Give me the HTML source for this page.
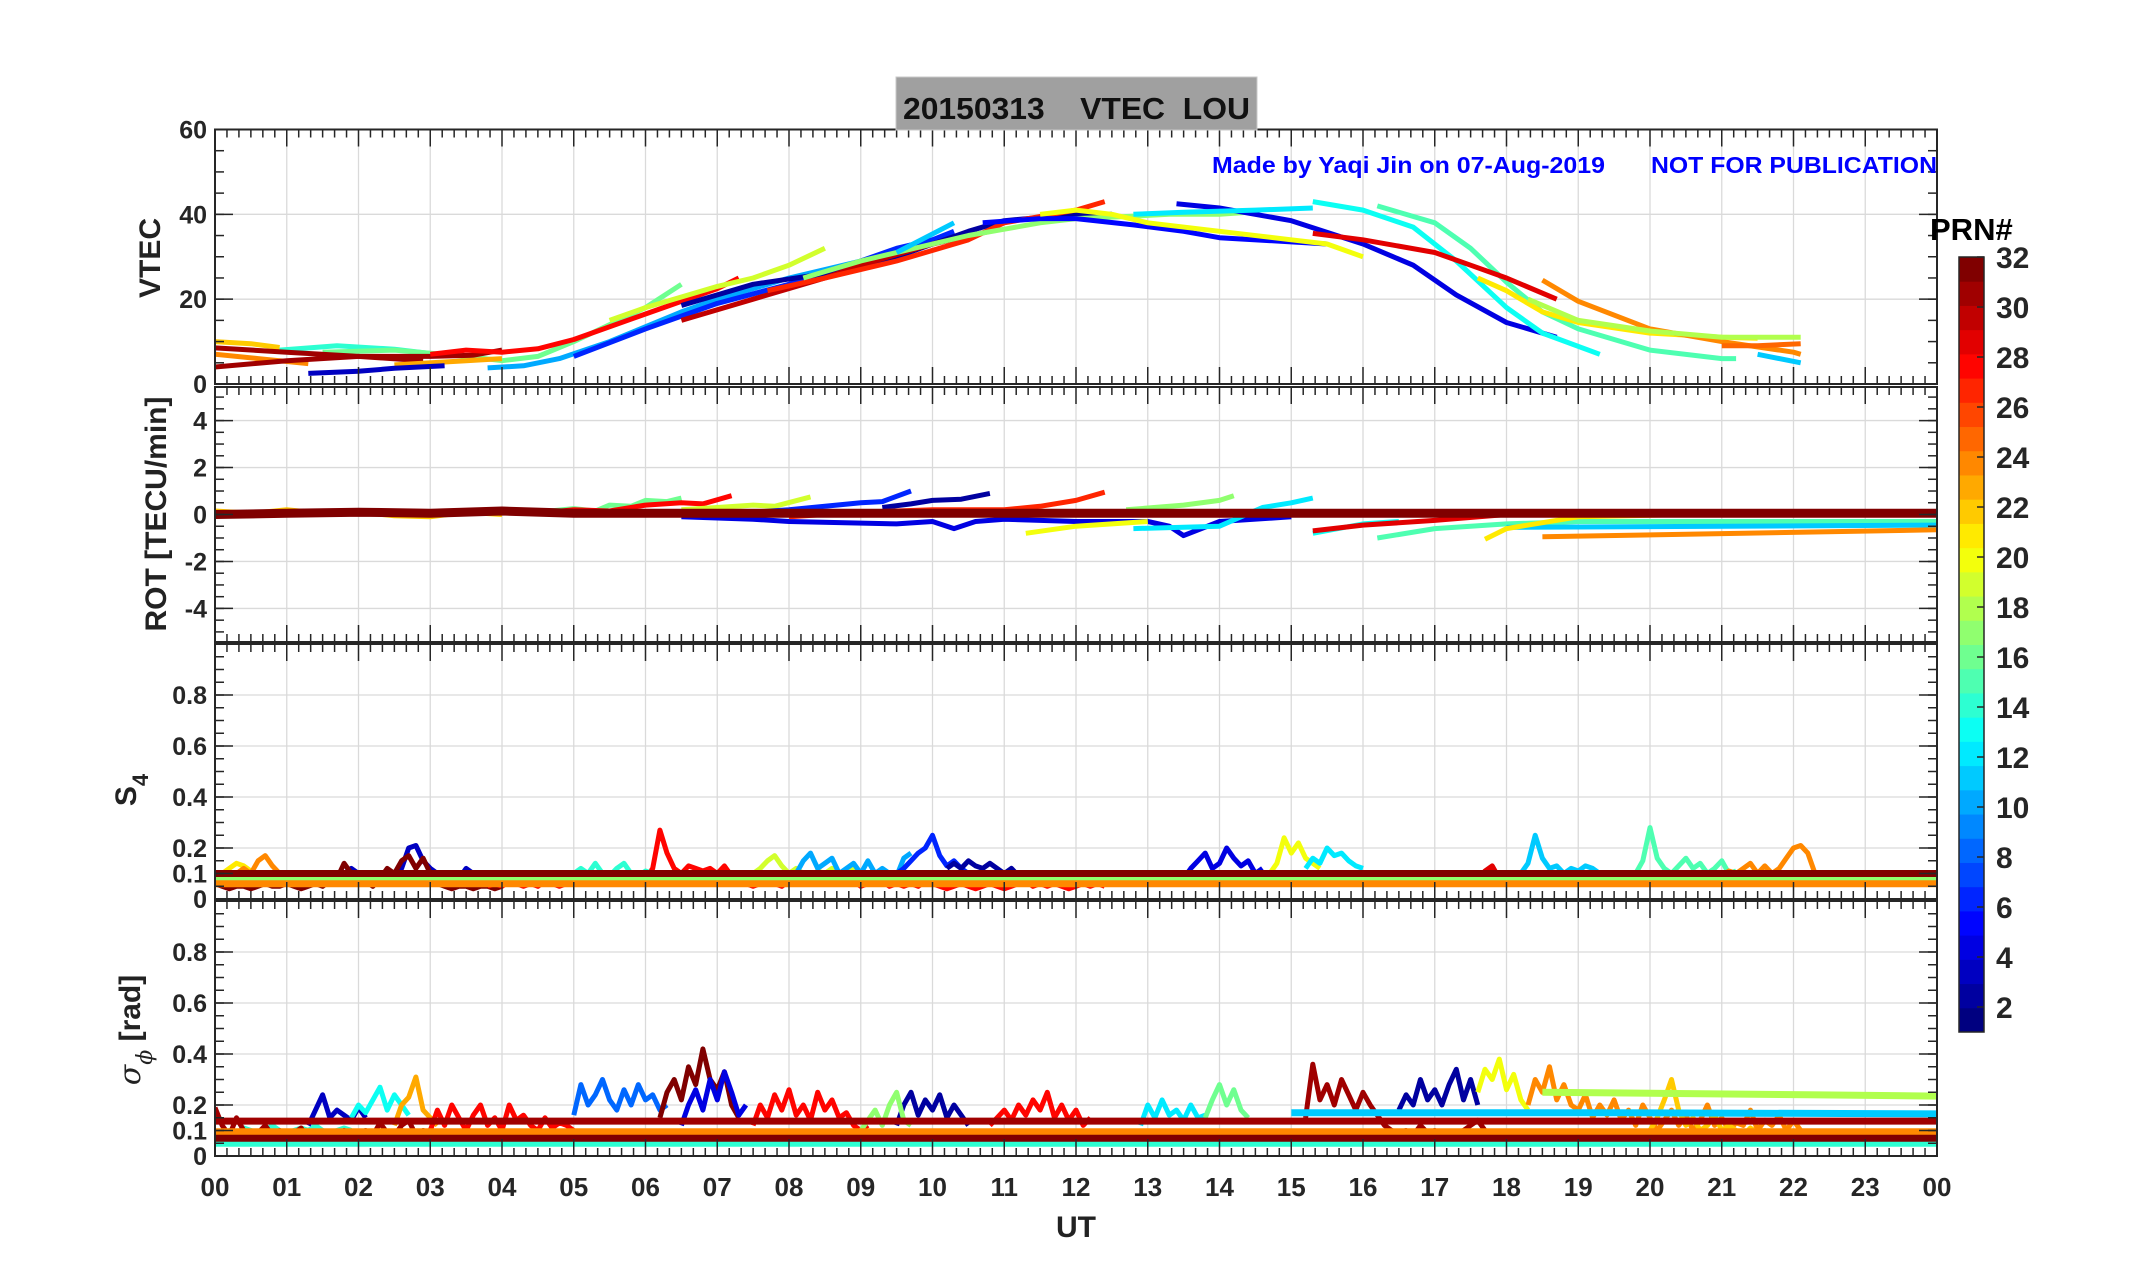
<!DOCTYPE html>
<html><head><meta charset="utf-8"><style>
html,body{margin:0;padding:0;background:#fff;}
svg{display:block;font-family:"Liberation Sans",Arial,sans-serif;}
</style></head><body>
<svg id="fig" width="2153" height="1286" viewBox="0 0 2153 1286" xmlns="http://www.w3.org/2000/svg">
<g id="grids"></g>
<g id="series"></g>
<g id="axes"></g>
<rect x="896" y="77" width="361" height="53" fill="#a0a0a0" stroke="#c8c8c8"/>
<text x="903" y="119" font-size="31" font-weight="bold" fill="#111" textLength="347" lengthAdjust="spacingAndGlyphs" xml:space="preserve">20150313    VTEC  LOU</text>
<text x="1212" y="173" font-size="23" font-weight="bold" fill="#0000ff" textLength="393" lengthAdjust="spacingAndGlyphs">Made by Yaqi Jin on 07-Aug-2019</text>
<text x="1651" y="173" font-size="23" font-weight="bold" fill="#0000ff" textLength="286" lengthAdjust="spacingAndGlyphs">NOT FOR PUBLICATION</text>
<text transform="translate(160,258) rotate(-90)" text-anchor="middle" font-size="30" font-weight="bold" fill="#222">VTEC</text>
<text transform="translate(166,514) rotate(-90)" text-anchor="middle" font-size="30" font-weight="bold" fill="#222">ROT [TECU/min]</text>
<text transform="translate(136,790) rotate(-90)" text-anchor="middle" font-size="30" font-weight="bold" fill="#222">S<tspan font-size="22" dy="12">4</tspan></text>
<text transform="translate(140,1030) rotate(-90)" text-anchor="middle" font-size="30" font-weight="bold" fill="#222"><tspan font-style="italic" font-weight="normal" font-family="DejaVu Serif,serif">σ</tspan><tspan font-size="22" dy="12" font-style="italic" font-weight="normal" font-family="DejaVu Serif,serif">ϕ</tspan><tspan dy="-12"> [rad]</tspan></text>
<text x="1076" y="1237" text-anchor="middle" font-size="30" font-weight="bold" fill="#222">UT</text>
<g id="cbar"></g>
<text x="1930" y="240" font-size="31" font-weight="bold" fill="#000">PRN#</text>
</svg>
<script>
// ---------------- data ----------------
const hourLabels = ["00","01","02","03","04","05","06","07","08","09","10","11","12","13","14","15","16","17","18","19","20","21","22","23","00"];
const vtecTicks = [0,20,40,60];
const rotTicks = [-4,-2,0,2,4];
const scintTicks = [0,0.1,0.2,0.4,0.6,0.8];
const cbarTicks = [2,4,6,8,10,12,14,16,18,20,22,24,26,28,30,32];

// VTEC arcs: PRN, then [hour, TECU] pairs
const vtecPRN = [22,24,14,16,31,31,28,23,3,10,6,19,2,30,27,17,11,5,20,4,12,13,15,29,21,24,18,25,11];
const vtecPts = [
 [[0,10],[0.5,9.5],[0.9,8.6]],
 [[0,7],[0.6,6],[1.3,4.8]],
 [[0.9,8],[1.7,9],[2.5,8.2],[3,7.2]],
 [[1.5,7.5],[2.5,8],[3.5,6.5],[4,5.5],[4.5,6.5],[5,10],[6,18],[6.5,23.5]],
 [[0,8.5],[1,7.5],[2,6.5],[2.9,5.5]],
 [[0,4],[1,5.5],[2,6.5],[3,6.5],[3.6,6.8],[4,8]],
 [[3,7],[3.5,8],[4,7.5],[4.5,8.3],[5,10.5],[6,16.5],[7,22.5],[7.3,25]],
 [[2.5,4.5],[3.5,5.5],[4,6]],
 [[1.3,2.5],[2,3],[2.5,3.7],[3.2,4.3]],
 [[3.8,3.8],[4.3,4.3],[4.8,6],[5.5,10],[6.5,17],[7,20],[8,25],[9,29],[9.4,31]],
 [[5,6.5],[6,13],[7,19],[8,23.5],[9,29],[9.5,32],[10,34],[10.3,36]],
 [[5.5,15],[6,18],[7,23],[7.5,25],[8,28],[8.5,32]],
 [[6.5,18.5],[7.5,23.5],[8.5,26],[9.5,30],[10.5,36],[11,38.5],[12,40],[12.5,40]],
 [[6.5,15],[7.5,20],[8.5,25],[9,28],[10,33],[10.8,36]],
 [[7.7,22],[8.5,25],[9.5,29],[10.5,34],[11,38],[12,41],[12.4,43]],
 [[8.2,25],[9,29],[10,33],[10.5,35],[11,36.5],[11.5,38],[12,39],[12.7,39.5],[13.3,40],[14,40],[14.4,40.5]],
 [[9.5,31],[10.3,38]],
 [[10.7,38],[11.5,39],[12,39],[12.8,37.5],[13.5,36],[14,34.5],[15,33.5],[15.5,33]],
 [[11.5,40],[12,41],[12.5,40],[13,38],[14,36],[15,34],[15.5,33],[16,30]],
 [[13.4,42.5],[14,41.5],[15,38.5],[16,33],[16.7,28],[17.3,21],[18,14.5],[18.7,11]],
 [[12.8,40],[13.5,40.5],[14.5,41],[15.3,41.5]],
 [[15.3,43],[16,41],[16.7,37],[17.3,29],[18,18],[18.5,12],[19.3,7]],
 [[16.2,42],[17,38],[17.5,32],[18,24],[18.5,17],[19,13],[20,8],[21,6],[21.2,6]],
 [[15.3,35.5],[16,34],[17,31],[17.5,28],[18,25],[18.7,20]],
 [[17.6,25],[18,22],[18.5,17],[19,14.5],[20,12],[21,11],[21.5,10.8]],
 [[18.5,24.5],[19,19.5],[20,13],[21,10],[22,7.5],[22.1,7]],
 [[18.3,20],[19,15],[20,12.5],[21,11],[22.1,11]],
 [[21,9],[21.5,9],[22.1,9.5]],
 [[21.5,7],[22.1,5]]
];

// ROT arcs: PRN, then [hour, TECU/min] pairs
const rotPRN = [22,16,28,19,6,2,27,4,20,17,12,13,29,15,11,24,21,2,32];
const rotPts = [
 [[0,0.15],[0.5,0.05],[1,0.2],[1.5,0.05],[2,0.1],[2.5,-0.05],[3,-0.1],[3.5,0.1],[4,0]],
 [[4.5,0.1],[5,0.25],[5.3,0.15],[5.5,0.4],[5.8,0.35],[6,0.6],[6.3,0.55],[6.5,0.7]],
 [[4.5,0.05],[5,0.2],[5.5,0.15],[6,0.4],[6.5,0.5],[6.8,0.45],[7.2,0.8]],
 [[6.5,0.2],[7,0.3],[7.5,0.4],[7.8,0.35],[8.3,0.75]],
 [[7.5,0.1],[8,0.2],[8.5,0.35],[9,0.5],[9.3,0.55],[9.7,1.0]],
 [[9.3,0.3],[9.7,0.45],[10,0.6],[10.4,0.65],[10.8,0.9]],
 [[8,-0.1],[9,0.1],[10,0.2],[11,0.2],[11.5,0.35],[12,0.6],[12.4,0.95]],
 [[6.5,-0.1],[7.5,-0.2],[8,-0.3],[9.5,-0.4],[10,-0.3],[10.3,-0.6],[10.6,-0.3],[11,-0.2],[12,-0.3],[13,-0.3],[13.3,-0.5],[13.5,-0.9],[14,-0.3],[15,-0.1]],
 [[11.3,-0.8],[12,-0.5],[12.5,-0.4],[13,-0.3]],
 [[12.7,0.2],[13.5,0.4],[14,0.6],[14.2,0.8]],
 [[12.8,-0.6],[14,-0.5],[14.6,0.3],[15,0.5],[15.3,0.7]],
 [[15.3,-0.8],[16,-0.4],[16.5,-0.3]],
 [[15.3,-0.7],[16,-0.45],[17,-0.25],[18,0],[18.7,0.05]],
 [[16.2,-1],[17,-0.6],[18,-0.4],[19,-0.3],[24,-0.3]],
 [[18,-0.55],[24,-0.45]],
 [[18.5,-0.95],[24,-0.65]],
 [[17.7,-1.05],[18,-0.6],[19,-0.1],[22,0.1]],
 [[16,0.05],[17.5,0.1]],
 [[0,0],[1,0.05],[2,0.1],[3,0.05],[4,0.15],[5,0.05],[8,0.05],[24,0.05]]
];

// S4 arcs: PRN, start hour, step h, values
const s4PRN = [21,24,3,32,28,14,19,10,6,2,4,20,12,29,11,15,24,17,24,32];
const s4Start = [0,0.3,1.3,0,3.8,5,7.5,8.1,9.5,10.2,13.5,14.7,15.2,15.3,18.2,19.8,21,0,0,0];
const s4Vals = [
 [0.09,0.1,0.12,0.14,0.13,0.11,0.1,0.09,0.08,0.09,0.1,0.08,0.09,0.1],
 [0.1,0.12,0.1,0.15,0.17,0.13,0.1,0.08,0.09,0.08,0.1,0.07,0.08,0.09],
 [0.07,0.08,0.1,0.09,0.08,0.1,0.12,0.1,0.08,0.09,0.1,0.08,0.1,0.12,0.2,0.21,0.15,0.12,0.1,0.09,0.1,0.08,0.12,0.1,0.08],
 [0.06,0.05,0.04,0.05,0.05,0.04,0.05,0.06,0.05,0.05,0.06,0.05,0.04,0.05,0.06,0.05,0.07,0.08,0.14,0.1,0.06,0.07,0.05,0.08,0.12,0.1,0.15,0.17,0.12,0.16,0.1,0.06,0.05,0.04,0.05,0.05,0.04,0.05,0.05,0.04,0.05],
 [0.05,0.06,0.05,0.07,0.06,0.05,0.06,0.05,0.07,0.06,0.05,0.06,0.07,0.06,0.08,0.07,0.06,0.07,0.08,0.07,0.06,0.07,0.08,0.12,0.27,0.18,0.12,0.1,0.13,0.12,0.11,0.12,0.1,0.13,0.09,0.07,0.06,0.05,0.06,0.07,0.06,0.05,0.07,0.06,0.08,0.1,0.08,0.07,0.09,0.08,0.06,0.07,0.05,0.06,0.08,0.07,0.05,0.06,0.05,0.06,0.05,0.07,0.06,0.05,0.04,0.05,0.06,0.05,0.04,0.05,0.06,0.05,0.04,0.05,0.06,0.07,0.05,0.06,0.05,0.06,0.05,0.04,0.05,0.06,0.05,0.06,0.05],
 [0.1,0.12,0.1,0.14,0.1,0.09,0.12,0.14,0.1,0.09,0.11,0.1],
 [0.1,0.12,0.15,0.17,0.13,0.1,0.12,0.1,0.09,0.11,0.1,0.12,0.1,0.09,0.12,0.1],
 [0.1,0.15,0.18,0.12,0.14,0.16,0.1,0.12,0.14,0.1,0.15,0.1,0.12,0.1,0.09,0.16,0.18],
 [0.1,0.12,0.15,0.18,0.2,0.25,0.17,0.13,0.15,0.12,0.1],
 [0.12,0.14,0.12,0.15,0.13,0.12,0.14,0.12,0.1,0.12,0.09,0.1],
 [0.08,0.12,0.15,0.18,0.12,0.14,0.2,0.16,0.13,0.15,0.1,0.12],
 [0.1,0.14,0.24,0.18,0.22,0.16,0.14,0.12],
 [0.12,0.16,0.14,0.2,0.17,0.18,0.15,0.13,0.12],
 [0.06,0.08,0.07,0.1,0.08,0.07,0.06,0.07,0.08,0.06,0.07,0.06,0.08,0.07,0.06,0.08,0.06,0.07,0.08,0.06,0.09,0.07,0.08,0.07,0.11,0.13,0.08,0.07,0.09,0.08,0.1,0.07,0.08,0.06],
 [0.1,0.14,0.25,0.16,0.12,0.13,0.1,0.12,0.11,0.13,0.12,0.1],
 [0.1,0.15,0.28,0.16,0.12,0.1,0.13,0.16,0.12,0.14,0.1,0.12,0.15,0.1,0.11],
 [0.09,0.11,0.1,0.12,0.14,0.1,0.13,0.1,0.12,0.16,0.2,0.21,0.18,0.1],
 [0.085,0.085],
 [0.06,0.06],
 [0.1,0.1]
];
const s4Step = [0.1,0.1,0.1,0.1,0.1,0.1,0.1,0.1,0.1,0.1,0.1,0.1,0.1,0.1,0.1,0.1,0.1,24,24,24];

// sigma-phi arcs
const sigPRN = [14,3,13,23,31,28,8,32,4,28,2,17,28,12,16,31,2,20,24,22,18,11,24,14,31,32];
const sigStart = [0,1.3,1.9,2.5,0,3,5,6.2,6.5,7.5,9.5,9,10.8,12.9,13.8,15.2,16.5,17.6,18.3,20,18.5,15,0,0,0,0];
const sigVals = [
 [0.06,0.08,0.1,0.09,0.11,0.1,0.09,0.1,0.12,0.1,0.09,0.1,0.11,0.1,0.12,0.1,0.09,0.1,0.11,0.1],
 [0.12,0.18,0.24,0.15,0.18,0.16,0.14,0.19,0.15],
 [0.15,0.2,0.17,0.22,0.27,0.18,0.24,0.2,0.16],
 [0.12,0.2,0.23,0.31,0.18,0.15,0.12],
 [0.19,0.12,0.08,0.15,0.1,0.07,0.09,0.12,0.08,0.1,0.06,0.09,0.11,0.07,0.09,0.08,0.07,0.08,0.1,0.07,0.09,0.1,0.08,0.13,0.09,0.08,0.12,0.14,0.08,0.1,0.09],
 [0.1,0.18,0.12,0.2,0.15,0.1,0.16,0.2,0.12,0.15,0.1,0.2,0.14,0.16,0.12,0.1,0.15,0.11,0.13,0.12,0.1],
 [0.16,0.28,0.2,0.24,0.3,0.22,0.18,0.26,0.2,0.28,0.22,0.24,0.18,0.2],
 [0.15,0.25,0.3,0.22,0.35,0.28,0.42,0.3,0.26,0.33,0.2,0.15],
 [0.12,0.2,0.26,0.18,0.3,0.22,0.33,0.25,0.16,0.2],
 [0.12,0.2,0.15,0.24,0.18,0.26,0.16,0.2,0.14,0.25,0.18,0.22,0.15,0.17,0.12,0.1,0.12],
 [0.12,0.2,0.25,0.16,0.22,0.18,0.24,0.15,0.2,0.16,0.12],
 [0.1,0.14,0.18,0.12,0.2,0.25,0.14,0.12],
 [0.12,0.15,0.18,0.14,0.2,0.16,0.22,0.18,0.25,0.15,0.2,0.14,0.18,0.12,0.15],
 [0.12,0.2,0.15,0.22,0.16,0.18,0.14,0.2,0.15,0.16],
 [0.15,0.22,0.28,0.2,0.26,0.18,0.15],
 [0.15,0.36,0.22,0.28,0.2,0.3,0.24,0.18,0.25,0.2,0.16,0.12,0.1,0.09,0.1,0.08,0.12,0.09,0.1,0.08,0.07,0.09,0.1,0.12,0.14,0.1,0.08,0.09],
 [0.18,0.24,0.2,0.3,0.22,0.26,0.2,0.28,0.34,0.22,0.3,0.2],
 [0.25,0.34,0.3,0.38,0.26,0.32,0.22,0.18],
 [0.2,0.3,0.25,0.35,0.22,0.28,0.2,0.18,0.24,0.15,0.2,0.16,0.22,0.14,0.18,0.12,0.2,0.15,0.1,0.14,0.18,0.12,0.16,0.1,0.14,0.2,0.12,0.15,0.1,0.13,0.12,0.18,0.1,0.14,0.12,0.16,0.1,0.14,0.1],
 [0.1,0.15,0.22,0.3,0.18,0.12,0.15,0.1,0.12,0.16,0.1,0.12,0.1,0.08,0.11,0.09,0.1,0.08,0.07,0.08,0.1],
 [0.25,0.245,0.24,0.235],
 [0.17,0.17,0.165],
 [0.095,0.095],
 [0.05,0.05],
 [0.137,0.137],
 [0.07,0.07]
];
const sigStep = [0.1,0.1,0.1,0.1,0.1,0.1,0.1,0.1,0.1,0.1,0.1,0.1,0.1,0.1,0.1,0.1,0.1,0.1,0.1,0.1,1.85,4.5,24,24,24,24];

// ---------------- layout / scales ----------------
const NS = "http://www.w3.org/2000/svg";
const X0 = 215, X1 = 1937;
const xs = h => X0 + (h / 24) * (X1 - X0);
const panels = [
  {top:129.5, bot:384, min:0, max:60},
  {top:387, bot:642, min:-5.43, max:5.43},
  {top:644, bot:899, min:0, max:1},
  {top:901, bot:1156, min:0, max:1}
];
const ys = (p, v) => p.bot - (v - p.min) / (p.max - p.min) * (p.bot - p.top);
function jet(prn){
  const t = (prn - 1) / 31;
  const c = v => Math.round(255 * Math.max(0, Math.min(1, v)));
  return `rgb(${c(1.5-Math.abs(4*t-3))},${c(1.5-Math.abs(4*t-2))},${c(1.5-Math.abs(4*t-1))})`;
}
function mk(tag, attrs, parent){
  const e = document.createElementNS(NS, tag);
  for (const k in attrs) e.setAttribute(k, attrs[k]);
  parent.appendChild(e);
  return e;
}
const gGrid = document.getElementById('grids');
const gSer = document.getElementById('series');
const gAx = document.getElementById('axes');
const gCb = document.getElementById('cbar');

const yTickSets = [vtecTicks, rotTicks, scintTicks, scintTicks];
const yMinorSteps = [5, 0.5, 0.05, 0.05];

panels.forEach((p, pi) => {
  for (let h = 1; h < 24; h++) {
    const l = mk('line', {x1:xs(h), x2:xs(h), y1:p.top, y2:p.bot, stroke:'#dadada', 'stroke-width':1.3}, gGrid);
    
    
  }
  yTickSets[pi].forEach(v => {
    if (v === p.min || v === p.max) return;
    const l = mk('line', {x1:X0, x2:X1, y1:ys(p,v), y2:ys(p,v), stroke:'#dadada', 'stroke-width':1.3}, gGrid);
    
    
  });
  const r = mk('rect', {x:X0, y:p.top, width:X1-X0, height:p.bot-p.top, fill:'none', stroke:'#262626', 'stroke-width':2}, gAx);
  
  
  for (let m = 0; m <= 24*6; m++) {
    const h = m / 6, major = m % 6 === 0, L = major ? 17 : 8, x = xs(h);
    mk('line', {x1:x, x2:x, y1:p.top, y2:p.top+L, stroke:'#262626', 'stroke-width':1.5}, gAx);
    mk('line', {x1:x, x2:x, y1:p.bot, y2:p.bot-L, stroke:'#262626', 'stroke-width':1.5}, gAx);
  }
  const st = yMinorSteps[pi];
  for (let v = Math.ceil(p.min/st)*st; v <= p.max + 1e-9; v += st) {
    const y = ys(p, v);
    mk('line', {x1:X0, x2:X0+9, y1:y, y2:y, stroke:'#262626', 'stroke-width':1.5}, gAx);
    mk('line', {x1:X1, x2:X1-9, y1:y, y2:y, stroke:'#262626', 'stroke-width':1.5}, gAx);
  }
  yTickSets[pi].forEach(v => {
    const y = ys(p, v);
    mk('line', {x1:X0, x2:X0+18, y1:y, y2:y, stroke:'#262626', 'stroke-width':1.5}, gAx);
    mk('line', {x1:X1, x2:X1-18, y1:y, y2:y, stroke:'#262626', 'stroke-width':1.5}, gAx);
    const t = mk('text', {x:X0-8, y:y+9, 'text-anchor':'end', 'font-size':25, 'font-weight':'bold', fill:'#262626'}, gAx);
    t.textContent = String(v);
    
    
  });
});
hourLabels.forEach((lab, i) => {
  const t = mk('text', {x:xs(i), y:1196, 'text-anchor':'middle', 'font-size':26, 'font-weight':'bold', fill:'#262626'}, gAx);
  t.textContent = lab;
  
  
});

const defs = mk('defs', {}, document.getElementById('fig'));
panels.forEach((p, pi) => {
  const cp = mk('clipPath', {id:'clip'+pi}, defs);
  mk('rect', {x:X0, y:p.top, width:X1-X0, height:p.bot-p.top}, cp);
});

function drawPairs(pi, prns, pts, w, name){
  const p = panels[pi];
  const g = mk('g', {'clip-path':`url(#clip${pi})`}, gSer);
  prns.forEach((prn, i) => {
    const d = pts[i].map((q, j) => (j ? 'L' : 'M') + xs(q[0]).toFixed(1) + ',' + ys(p, q[1]).toFixed(1)).join('');
    const ww = (pi === 1 && prn === 32) ? w + 4 : w;
    const e = mk('path', {d, fill:'none', stroke:jet(prn), 'stroke-width':ww, 'stroke-linejoin':'round', 'stroke-linecap':'butt'}, g);
    
    
  });
}
function drawSeq(pi, prns, starts, steps, vals, w, name){
  const p = panels[pi];
  const g = mk('g', {'clip-path':`url(#clip${pi})`}, gSer);
  prns.forEach((prn, i) => {
    const d = vals[i].map((v, j) => (j ? 'L' : 'M') + xs(starts[i] + j*steps[i]).toFixed(1) + ',' + ys(p, v).toFixed(1)).join('');
    const ww = steps[i] > 1 ? w + 2 : w;
    const e = mk('path', {d, fill:'none', stroke:jet(prn), 'stroke-width':ww, 'stroke-linejoin':'round'}, g);
    
    
  });
}
drawPairs(0, vtecPRN, vtecPts, 5, 'vtec-arc');
drawPairs(1, rotPRN, rotPts, 5, 'rot-arc');
drawSeq(2, s4PRN, s4Start, s4Step, s4Vals, 5, 's4-arc');
drawSeq(3, sigPRN, sigStart, sigStep, sigVals, 5, 'sigma-arc');

// colorbar (range 1..32)
const CB = {x:1959, w:25, top:257, bot:1032};
const cy = v => CB.bot - (v - 1) / 31 * (CB.bot - CB.top);
for (let k = 1; k <= 32; k++) {
  const y0 = CB.bot - k/32*(CB.bot-CB.top), y1 = CB.bot - (k-1)/32*(CB.bot-CB.top);
  const r = mk('rect', {x:CB.x, y:y0, width:CB.w, height:y1-y0+0.5, fill:jet(k)}, gCb);
  
  
}
mk('rect', {x:CB.x, y:CB.top, width:CB.w, height:CB.bot-CB.top, fill:'none', stroke:'#262626', 'stroke-width':1.5}, gCb);
cbarTicks.forEach(v => {
  mk('line', {x1:CB.x+CB.w, x2:CB.x+CB.w-7, y1:cy(v), y2:cy(v), stroke:'#262626', 'stroke-width':1.5}, gCb);
  const t = mk('text', {x:1996, y:cy(v)+11, 'font-size':30, 'font-weight':'bold', fill:'#262626'}, gCb);
  t.textContent = String(v);
  
  
});
</script>
</body></html>
